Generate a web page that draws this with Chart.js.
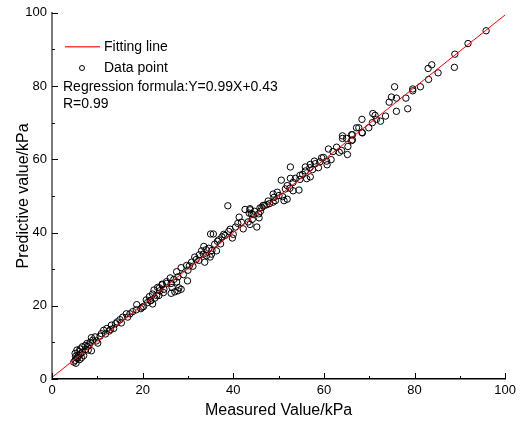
<!DOCTYPE html>
<html>
<head>
<meta charset="utf-8">
<script src="https://cdn.jsdelivr.net/npm/chart.js@4.4.1/dist/chart.umd.min.js"></script>
<style>
  html, body { margin: 0; padding: 0; background: #fff; }
  #wrap { width: 520px; height: 425px; }
</style>
</head>
<body>
<div id="wrap"><canvas id="chart" width="520" height="425"></canvas></div>
<script>
// values
const measured = [
  95.8, 91.8, 88.9, 88.8, 83.8, 83.0, 85.2, 83.1, 81.3, 79.6, 79.6, 75.6, 74.9, 76.0, 74.4,
  78.1, 78.5, 76.0, 73.6, 72.5, 70.8, 71.3, 71.6, 68.4, 70.7, 69.9, 68.4, 67.2, 67.7, 66.3,
  66.3, 64.1, 64.1, 66.1, 66.1, 68.5, 65.0, 65.3, 63.9, 65.2, 63.4, 62.0, 61.0, 61.6, 60.6,
  60.7, 59.5, 59.1, 58.1, 58.8, 57.0, 56.9, 57.9, 55.9, 55.9, 52.6, 54.7, 54.7, 57.0, 56.2,
  53.7, 52.6, 50.6, 53.2, 51.9, 52.5, 51.5, 54.5, 53.2, 49.7, 48.8, 50.1, 50.9, 51.9, 49.3,
  51.2, 46.9, 46.0, 44.7, 43.7, 44.0, 45.7, 43.7, 38.8, 41.3, 42.6, 43.7, 43.5, 44.4, 45.6,
  45.9, 46.6, 47.4, 48.8, 43.3, 45.2, 44.2, 39.3, 40.0, 37.9, 37.5, 35.0, 35.6, 36.8, 35.9,
  37.2, 33.5, 34.6, 34.0, 35.3, 33.0, 33.4, 32.5, 34.1, 36.3, 31.5, 30.8, 32.4, 33.7, 34.9,
  35.2, 29.7, 28.5, 30.0, 31.1, 27.5, 29.0, 27.8, 29.9, 26.1, 26.9, 25.3, 26.3, 24.3, 23.7,
  28.0, 28.5, 26.3, 24.6, 22.5, 23.1, 21.7, 22.2, 27.5, 26.5, 25.3, 24.3, 23.3, 23.8, 24.7,
  27.1, 27.8, 22.2, 21.5, 22.7, 23.6, 20.8, 21.8, 18.7, 19.6, 20.2, 21.1, 18.6, 17.2, 16.7,
  16.4, 15.6, 15.0, 14.4, 15.3, 14.0, 13.1, 13.6, 12.1, 12.6, 11.4, 10.9, 10.6, 9.5, 9.0,
  9.8, 8.4, 7.7, 7.3, 6.7, 6.2, 5.5, 5.1, 5.5, 5.1, 4.8, 6.1, 7.0, 6.7, 8.0,
  8.7, 8.7, 10.1, 5.3, 5.6, 5.9, 6.3, 5.2, 6.5, 7.4, 6.0, 7.8, 8.2, 39.0, 40.5,
  41.8, 42.2, 38.2, 36.5, 39.8, 41.0, 31.8, 30.3, 19.9, 17.8, 12.9, 11.8, 48.0, 47.7, 62.8,
  59.9, 57.5, 55.3, 49.0, 46.3
];
const predicted = [
  95.1, 91.6, 88.7, 85.1, 85.8, 84.8, 83.6, 81.8, 79.8, 79.2, 78.7, 79.8, 77.0, 76.7, 75.6,
  76.7, 73.8, 73.1, 71.8, 70.4, 72.5, 72.0, 70.9, 70.9, 70.0, 68.6, 67.3, 68.6, 68.6, 66.7,
  65.3, 66.4, 65.7, 66.7, 65.1, 67.2, 65.7, 63.5, 62.4, 61.3, 61.9, 62.1, 62.8, 59.9, 59.5,
  58.5, 60.4, 59.3, 58.8, 57.7, 58.6, 57.7, 59.5, 57.9, 56.8, 57.9, 55.6, 54.5, 55.2, 54.7,
  54.8, 54.8, 54.3, 53.7, 52.8, 52.1, 51.9, 51.6, 51.4, 51.0, 50.5, 50.1, 49.8, 49.1, 48.7,
  48.7, 47.4, 45.8, 45.8, 46.2, 45.1, 44.0, 42.2, 47.3, 44.2, 46.3, 46.5, 45.3, 44.9, 45.1,
  46.7, 47.4, 47.6, 48.3, 42.9, 41.5, 43.6, 40.9, 39.5, 39.5, 38.8, 39.6, 39.6, 38.0, 36.8,
  36.9, 36.2, 35.7, 35.3, 35.1, 35.0, 34.1, 33.9, 33.7, 35.0, 33.3, 31.9, 32.4, 31.9, 33.3,
  34.1, 31.0, 30.4, 29.7, 30.8, 29.3, 28.5, 27.9, 26.8, 27.6, 27.2, 26.6, 26.1, 25.9, 24.9,
  24.9, 24.5, 23.4, 23.6, 24.3, 22.8, 21.4, 20.5, 26.5, 25.0, 26.1, 25.7, 25.0, 24.1, 24.5,
  23.8, 24.1, 23.2, 22.5, 22.1, 22.8, 21.6, 21.4, 20.3, 19.2, 19.8, 20.9, 18.9, 17.8, 16.9,
  17.8, 16.9, 16.2, 15.6, 15.3, 15.1, 14.7, 13.8, 13.8, 13.1, 13.3, 12.4, 11.7, 11.5, 10.6,
  10.4, 10.0, 9.7, 9.1, 8.8, 8.2, 7.9, 7.0, 5.9, 5.1, 4.6, 5.3, 6.4, 7.3, 7.9,
  7.7, 11.3, 9.8, 4.3, 5.6, 6.5, 6.9, 6.2, 5.8, 8.1, 7.5, 8.9, 9.3, 40.3, 41.5,
  42.8, 41.0, 39.2, 37.6, 38.5, 42.5, 32.6, 30.9, 19.6, 18.4, 13.5, 12.3, 47.9, 48.6, 63.3,
  60.5, 57.2, 55.9, 49.6, 46.8
];
const slope = 0.99;
const intercept = 0.43;
const lineEnds = [0, 100];
const majorTicks = [0, 20, 40, 60, 80, 100];
const minorTicks = [10, 30, 50, 70, 90];
const legendLines = ['Regression formula:Y=0.99X+0.43', 'R=0.99'];

const points = measured.map((m, i) => ({ x: m, y: predicted[i] }));
const fitLine = lineEnds.map(x => ({ x: x, y: slope * x + intercept }));

const FONT = '"Liberation Sans", Arial, sans-serif';

// ticks pointing into the plot, plus the text box in the top left corner
const decorations = {
  id: 'decorations',
  afterDraw(chart) {
    const ctx = chart.ctx;
    const xs = chart.scales.x, ys = chart.scales.y;
    const area = chart.chartArea;
    ctx.save();
    ctx.strokeStyle = '#000';
    ctx.lineWidth = 1;
    majorTicks.concat(minorTicks).forEach(v => {
      const len = majorTicks.includes(v) ? 6 : 3;
      const px = Math.round(xs.getPixelForValue(v)) + 0.5;
      ctx.beginPath();
      ctx.moveTo(px, area.bottom);
      ctx.lineTo(px, area.bottom - len);
      ctx.stroke();
      const py = Math.round(ys.getPixelForValue(v)) + 0.5;
      ctx.beginPath();
      ctx.moveTo(area.left, py);
      ctx.lineTo(area.left + len, py);
      ctx.stroke();
    });

    // legend text
    ctx.font = '14px ' + FONT;
    ctx.textBaseline = 'middle';
    ctx.fillStyle = '#000';
    ctx.fillText('Fitting line', 104, 47);
    ctx.fillText('Data point', 104, 68);
    ctx.fillText(legendLines[0], 63, 87);
    ctx.fillText(legendLines[1], 63, 104);
    ctx.beginPath();
    ctx.arc(82, 68, 2.5, 0, Math.PI * 2);
    ctx.stroke();
    // legend sample of the fitting line
    ctx.fillStyle = '#ff4040';
    ctx.fillRect(65, 46, 35, 1.5);
    ctx.restore();
  }
};

new Chart(document.getElementById('chart'), {
  type: 'scatter',
  data: {
    datasets: [
      {
        type: 'line',
        label: 'Fitting line',
        data: fitLine,
        borderColor: '#ff0000',
        borderWidth: 1,
        pointRadius: 0,
        fill: false
      },
      {
        label: 'Data point',
        data: points,
        pointRadius: 3.2,
        pointBorderWidth: 1,
        borderColor: '#000',
        backgroundColor: 'rgba(0,0,0,0)'
      }
    ]
  },
  options: {
    responsive: false,
    animation: false,
    layout: { padding: { top: 10, right: 14, left: 0, bottom: 0 } },
    plugins: {
      legend: { display: false },
      tooltip: { enabled: false }
    },
    scales: {
      x: {
        type: 'linear',
        min: 0,
        max: 100,
        afterBuildTicks: s => { s.ticks = majorTicks.map(v => ({ value: v })); },
        afterFit: s => { s.height = 46; },
        grid: { display: false, drawTicks: false },
        border: { display: true, color: '#000', width: 1.5 },
        ticks: { color: '#000', padding: 4, font: { family: FONT, size: 13 } },
        title: {
          display: true,
          text: 'Measured Value/kPa',
          color: '#000',
          padding: { top: 0, bottom: 5 },
          font: { family: FONT, size: 16 }
        }
      },
      y: {
        type: 'linear',
        min: 0,
        max: 100,
        afterBuildTicks: s => { s.ticks = majorTicks.map(v => ({ value: v })); },
        afterFit: s => { s.width = 52; },
        grid: { display: false, drawTicks: false },
        border: { display: true, color: '#7a7a7a', width: 2 },
        ticks: { color: '#000', padding: 5, font: { family: FONT, size: 13 } },
        title: {
          display: true,
          text: 'Predictive value/kPa',
          color: '#000',
          padding: { top: 14, bottom: 2 },
          font: { family: FONT, size: 16 }
        }
      }
    }
  },
  plugins: [decorations]
});
</script>
</body>
</html>
